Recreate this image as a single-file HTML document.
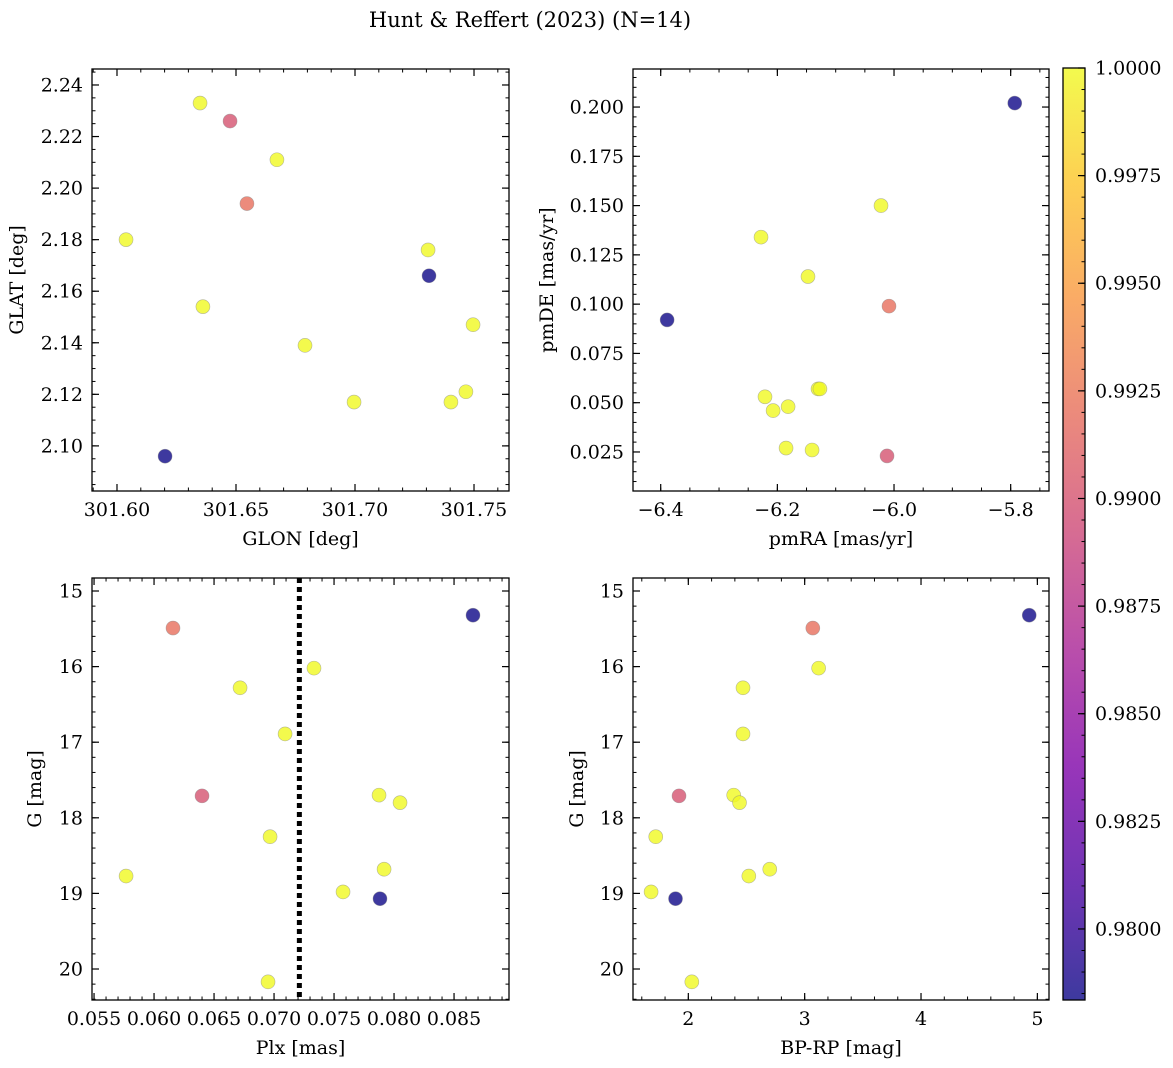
<!DOCTYPE html>
<html><head><meta charset="utf-8">
<style>
html,body{margin:0;padding:0;background:#fff;}
svg{display:block;font-family:"DejaVu Serif","Liberation Serif",serif;}
</style></head>
<body>
<svg id="fig" width="1173" height="1068" viewBox="0 0 1173 1068" xmlns="http://www.w3.org/2000/svg">
<defs>
<linearGradient id="plasma" x1="0" y1="1" x2="0" y2="0">
<stop offset="0" stop-color="#0d0887"/>
<stop offset="0.125" stop-color="#4c02a1"/>
<stop offset="0.25" stop-color="#7e03a8"/>
<stop offset="0.375" stop-color="#a82296"/>
<stop offset="0.5" stop-color="#cc4778"/>
<stop offset="0.625" stop-color="#e66c5c"/>
<stop offset="0.75" stop-color="#f89540"/>
<stop offset="0.875" stop-color="#fdc328"/>
<stop offset="1" stop-color="#f0f921"/>
</linearGradient>
</defs>
<text x="530" y="27" font-size="21" text-anchor="middle">Hunt &amp; Reffert (2023) (N=14)</text>
</svg>
<script>
// star memberships (blue, blue, salmon, pink, then yellow members)
const memb = [0.9784,0.9784,0.9920,0.9900,1,1,1,1,1,1,1,1,1,1];
const glon = [301.6202,301.7311,301.6546,301.6475,301.6349,301.6672,301.6038,301.7307,301.6361,301.7496,301.679,301.6996,301.7403,301.7466];
const glat = [2.096,2.166,2.194,2.226,2.233,2.211,2.180,2.176,2.154,2.147,2.139,2.117,2.117,2.121];
const pmra = [-5.793,-6.389,-6.0086,-6.012,-6.0223,-6.228,-6.1475,-6.2212,-6.1303,-6.127,-6.1816,-6.2073,-6.1851,-6.1405];
const pmde = [0.202,0.092,0.099,0.023,0.150,0.134,0.114,0.053,0.057,0.057,0.048,0.046,0.027,0.026];
const plx = [0.08658,0.07883,0.06158,0.0640,0.07333,0.06717,0.07092,0.07875,0.0805,0.06967,0.07917,0.05767,0.07575,0.0695];
const gmag = [15.32,19.07,15.49,17.71,16.02,16.28,16.89,17.70,17.80,18.25,18.68,18.77,18.98,20.17];
const bprp = [4.93,1.89,3.07,1.92,3.12,2.47,2.47,2.39,2.44,1.72,2.70,2.52,1.68,2.03];
const plxRef = 0.07211;
const cbTicks = ["0.9800","0.9825","0.9850","0.9875","0.9900","0.9925","0.9950","0.9975","1.0000"];

const NS="http://www.w3.org/2000/svg";
const svg=document.getElementById('fig');
function mk(tag,attrs,parent){const e=document.createElementNS(NS,tag);for(const k in attrs)e.setAttribute(k,attrs[k]);(parent||svg).appendChild(e);return e;}
const FS=19;
const CMIN=0.97835, CMAX=1.0;
const stops=[[0,[13,8,135]],[0.125,[76,2,161]],[0.25,[126,3,168]],[0.375,[168,34,150]],[0.5,[204,71,120]],[0.625,[230,108,92]],[0.75,[248,149,64]],[0.875,[253,195,40]],[1,[240,249,33]]];
function cmap(v){let t=(v-CMIN)/(CMAX-CMIN);t=Math.max(0,Math.min(1,t));
 for(let i=1;i<stops.length;i++){if(t<=stops[i][0]){const a=stops[i-1],b=stops[i];const f=(t-a[0])/(b[0]-a[0]);
 const c=a[1].map((x,j)=>Math.round(x+(b[1][j]-x)*f));return `rgb(${c[0]},${c[1]},${c[2]})`;}}
 return 'rgb(240,249,33)';}

function dec(v,d){return v.toFixed(d);}
function panel(o){
 const g=mk('g',{});
 
 
 const X=v=>o.x0+(v-o.xmin)/(o.xmax-o.xmin)*(o.x1-o.x0);
 const Y=o.yinv? v=>o.y0+(v-o.ymin)/(o.ymax-o.ymin)*(o.y1-o.y0) : v=>o.y1-(v-o.ymin)/(o.ymax-o.ymin)*(o.y1-o.y0);
 const eps=1e-9;
 function ticks(min,max,step){const a=[];let s=Math.ceil(min/step-eps);for(let k=s;k*step<=max+eps;k++)a.push(k*step);return a;}
 ticks(o.xmin,o.xmax,o.xminor).forEach(v=>{const x=X(v);
  mk('line',{x1:x,x2:x,y1:o.y1,y2:o.y1-3.5,stroke:'#000','stroke-width':1},g);
  mk('line',{x1:x,x2:x,y1:o.y0,y2:o.y0+3.5,stroke:'#000','stroke-width':1},g);});
 ticks(o.ymin,o.ymax,o.yminor).forEach(v=>{const y=Y(v);
  mk('line',{x1:o.x0,x2:o.x0+3.5,y1:y,y2:y,stroke:'#000','stroke-width':1},g);
  mk('line',{x1:o.x1,x2:o.x1-3.5,y1:y,y2:y,stroke:'#000','stroke-width':1},g);});
 ticks(o.xmin,o.xmax,o.xmajor).forEach(v=>{const x=X(v);
  mk('line',{x1:x,x2:x,y1:o.y1,y2:o.y1-7,stroke:'#000','stroke-width':1.2},g);
  mk('line',{x1:x,x2:x,y1:o.y0,y2:o.y0+7,stroke:'#000','stroke-width':1.2},g);
  const t=mk('text',{x:x,y:o.y1+25,'font-size':FS,'text-anchor':'middle'},g);
  t.textContent=o.xfmt(v);
  
  });
 ticks(o.ymin,o.ymax,o.ymajor).forEach(v=>{const y=Y(v);
  mk('line',{x1:o.x0,x2:o.x0+7,y1:y,y2:y,stroke:'#000','stroke-width':1.2},g);
  mk('line',{x1:o.x1,x2:o.x1-7,y1:y,y2:y,stroke:'#000','stroke-width':1.2},g);
  const t=mk('text',{x:o.x0-9,y:y+6.5,'font-size':FS,'text-anchor':'end'},g);
  t.textContent=o.yfmt(v);
  
  });
 if(o.vline!==undefined){const l=mk('line',{x1:X(o.vline),x2:X(o.vline),y1:o.y0,y2:o.y1,stroke:'#000','stroke-width':5,'stroke-dasharray':'5,4'},g);
  
  }
 o.xs.forEach((xv,i)=>{const c=mk('circle',{cx:X(xv),cy:Y(o.ys[i]),r:7,fill:cmap(memb[i]),'fill-opacity':0.8,stroke:'#888','stroke-opacity':0.6,'stroke-width':0.6},g);
  
  });
 const fr=mk('rect',{x:o.x0,y:o.y0,width:o.x1-o.x0,height:o.y1-o.y0,fill:'none',stroke:'#000','stroke-width':1.3},g);
 
 
 const xl=mk('text',{x:(o.x0+o.x1)/2,y:o.y1+54,'font-size':FS,'text-anchor':'middle'},g);
 xl.textContent=o.xlabel;
 
 
 const cy=(o.y0+o.y1)/2, cx=o.ylx;
 const yl=mk('text',{x:cx,y:cy,'font-size':FS,'text-anchor':'middle',transform:`rotate(-90 ${cx} ${cy})`},g);
 yl.textContent=o.ylabel;
 
 
}

panel({name:'glon-glat-panel',x0:92,x1:509,y0:69,y1:491,xmin:301.5895,xmax:301.7647,ymin:2.0825,ymax:2.2462,
 xmajor:0.05,xminor:0.01,ymajor:0.02,yminor:0.005,xfmt:v=>dec(v,2),yfmt:v=>dec(v,2),
 xs:glon,ys:glat,xlabel:'GLON [deg]',ylabel:'GLAT [deg]',ylx:23});
panel({name:'proper-motion-panel',x0:633,x1:1049,y0:69,y1:491,xmin:-6.4475,xmax:-5.7343,ymin:0.0052,ymax:0.2193,
 xmajor:0.2,xminor:0.05,ymajor:0.025,yminor:0.005,xfmt:v=>dec(v,1).replace('-','\u2212'),yfmt:v=>dec(v,3),
 xs:pmra,ys:pmde,xlabel:'pmRA [mas/yr]',ylabel:'pmDE [mas/yr]',ylx:553});
panel({name:'parallax-mag-panel',x0:92,x1:509,y0:578,y1:1000,xmin:0.05483,xmax:0.08958,ymin:14.828,ymax:20.41,yinv:true,
 xmajor:0.005,xminor:0.001,ymajor:1,yminor:0.2,xfmt:v=>dec(v,3),yfmt:v=>dec(v,0),
 xs:plx,ys:gmag,xlabel:'Plx [mas]',ylabel:'G [mag]',ylx:41,vline:plxRef});
panel({name:'cmd-panel',x0:633,x1:1049,y0:578,y1:1000,xmin:1.5245,xmax:5.1,ymin:14.828,ymax:20.41,yinv:true,
 xmajor:1,xminor:0.2,ymajor:1,yminor:0.2,xfmt:v=>dec(v,0),yfmt:v=>dec(v,0),
 xs:bprp,ys:gmag,xlabel:'BP-RP [mag]',ylabel:'G [mag]',ylx:583});

// colorbar
const cb=mk('g',{});


const cbx0=1063,cbx1=1085,cby0=68,cby1=1000;
mk('rect',{x:cbx0,y:cby0,width:cbx1-cbx0,height:cby1-cby0,fill:'url(#plasma)','fill-opacity':0.8},cb);
const CY=v=>cby1-(v-CMIN)/(CMAX-CMIN)*(cby1-cby0);
for(let k=Math.ceil(CMIN/0.0005-1e-6);k*0.0005<=CMAX+1e-9;k++){const y=CY(k*0.0005);
 mk('line',{x1:cbx1,x2:cbx1-3.5,y1:y,y2:y,stroke:'#000','stroke-width':1},cb);}
cbTicks.forEach(s=>{const y=CY(parseFloat(s));
 mk('line',{x1:cbx1,x2:cbx1-7,y1:y,y2:y,stroke:'#000','stroke-width':1.2},cb);
 const t=mk('text',{x:cbx1+10,y:y+6.5,'font-size':FS},cb);
 t.textContent=s;
 
 });
mk('rect',{x:cbx0,y:cby0,width:cbx1-cbx0,height:cby1-cby0,fill:'none',stroke:'#000','stroke-width':1.3},cb);
</script>
</body></html>
